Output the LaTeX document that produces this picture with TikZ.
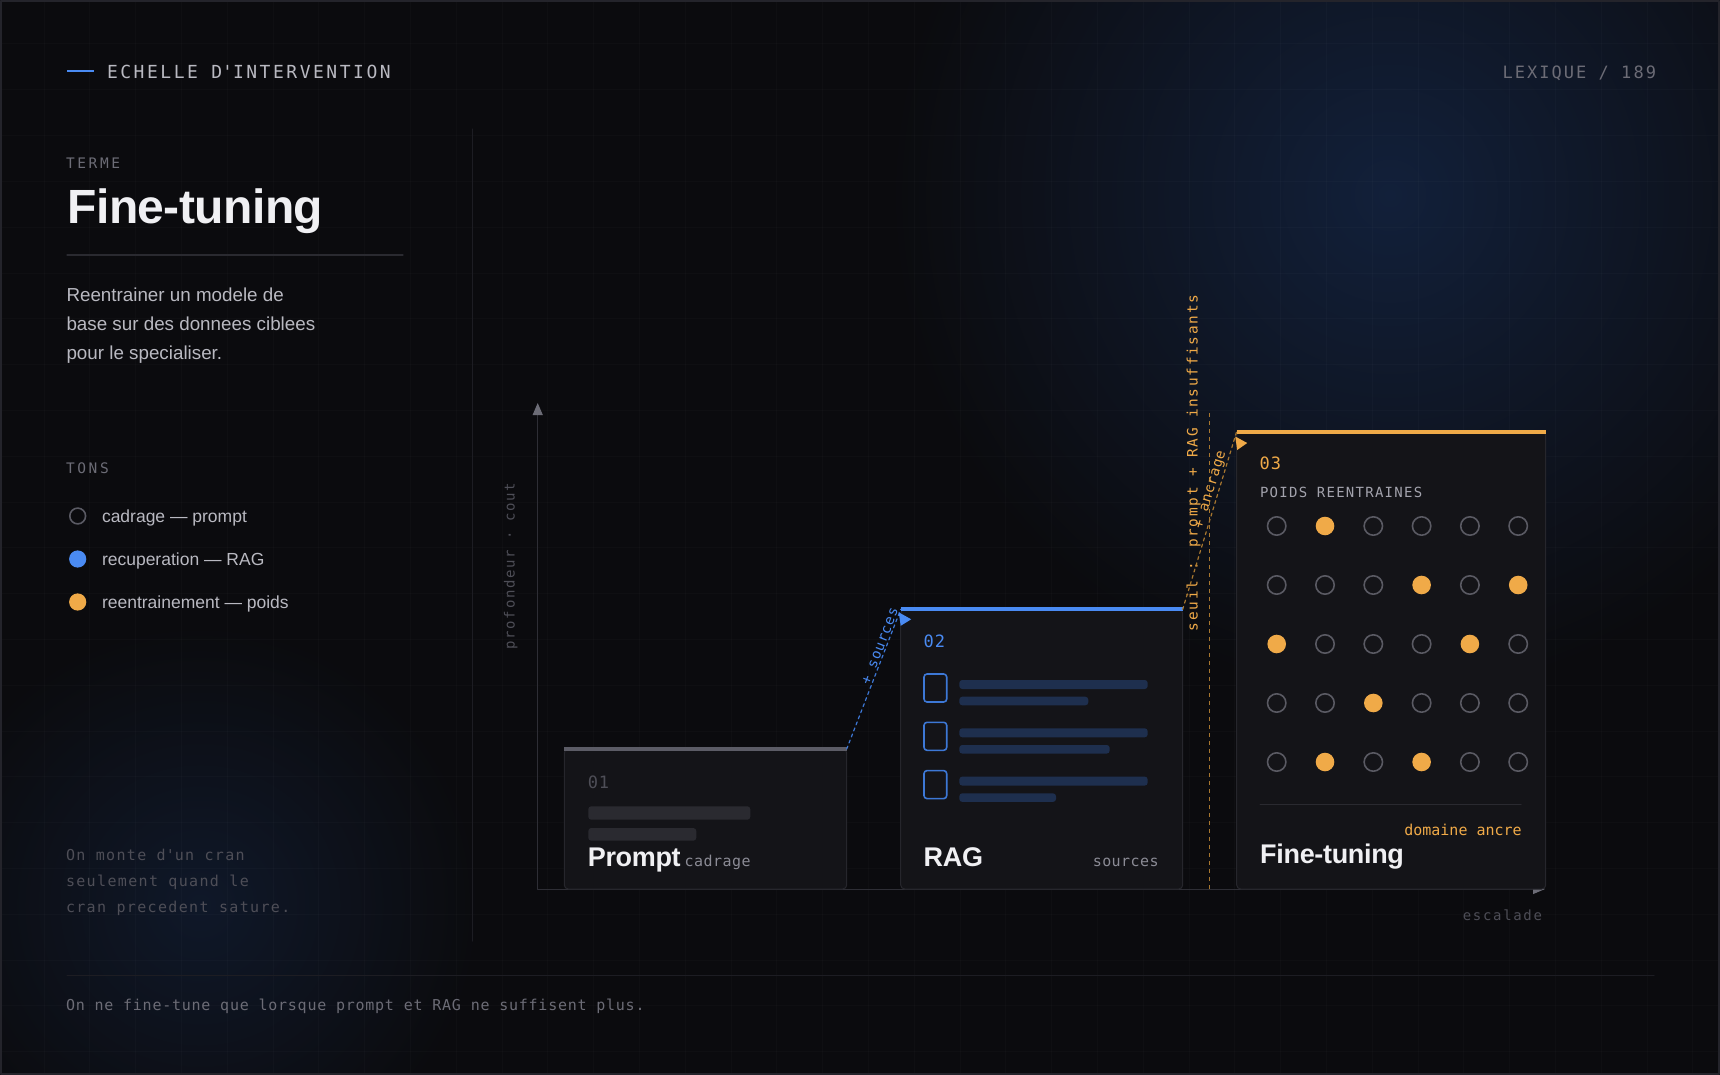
\documentclass[tikz,border=0pt]{standalone}
\usepackage{fontspec}
\setmainfont{Liberation Sans}
\newfontfamily\mono{DejaVu Sans Mono}
\newfontfamily\monoA{DejaVu Sans Mono}[LetterSpace=3]
\newfontfamily\monoB{DejaVu Sans Mono}[LetterSpace=5]
\newfontfamily\monoC{DejaVu Sans Mono}[LetterSpace=9]
\newfontfamily\monoD{DejaVu Sans Mono}[LetterSpace=12]
\newfontfamily\monoK{DejaVu Sans Mono}[LetterSpace=14]
\newfontfamily\monoE{DejaVu Sans Mono}[LetterSpace=18]
\newfontfamily\tightf{Liberation Sans}[LetterSpace=-1.2]
\usetikzlibrary{positioning,arrows.meta,calc}

\definecolor{bg}{HTML}{0B0B0E}
\definecolor{frame}{HTML}{24242B}
\definecolor{ink}{HTML}{F0F0F3}
\definecolor{txt}{HTML}{B9B9C1}
\definecolor{mute}{HTML}{6C6C76}
\definecolor{faint}{HTML}{4E4E57}
\definecolor{tagc}{HTML}{8B8B95}
\definecolor{subc}{HTML}{A3A3AD}
\definecolor{rule}{HTML}{1D1D23}
\definecolor{rulehi}{HTML}{2A2A30}
\definecolor{axisc}{HTML}{2E2E35}
\definecolor{bluec}{HTML}{4A8BF3}
\definecolor{bluedoc}{HTML}{3D78D6}
\definecolor{orng}{HTML}{F0AA48}
\definecolor{orngdim}{HTML}{A8772F}
\definecolor{cardbg}{HTML}{141418}
\definecolor{cardline}{HTML}{26262C}
\definecolor{skel}{HTML}{2A2A30}
\definecolor{skelhi}{HTML}{5C5C66}
\definecolor{ragbar}{HTML}{1E2F4E}
\definecolor{ring}{HTML}{5A5A63}
\definecolor{glow}{HTML}{12203A}
\definecolor{glowlo}{HTML}{0F1829}

\newcommand{\pxfont}[1]{\fontsize{#1}{#1}\selectfont}

\begin{document}
\begin{tikzpicture}[x=1pt, y=-1pt, line join=round, line cap=round,
  lbl/.style={inner sep=0pt, outer sep=0pt, anchor=base west},
  card/.style={draw=cardline, fill=cardbg, line width=1pt, rounded corners=4pt,
               inner sep=0pt, outer sep=0pt, anchor=south west, minimum width=#1},
  cardtitle/.style={lbl, text=ink, font=\tightf\bfseries\pxfont{27}},
  topbar/.style={line width=#1, line cap=butt},
  hop/.style={line width=1.2pt, dash pattern=on 3pt off 3.5pt},
  tip/.style={-{Triangle[width=10pt,length=12pt,color=mute]}}]

% --- BACKGROUND ---
\useasboundingbox (0,0) rectangle (1720,1075);
\fill[bg] (0,0) rectangle (1720,1075);
\begin{scope}
  \clip (0,0) rectangle (1720,1075);
  \shade[inner color=glow, outer color=bg] (1390,195) circle (500);
  \shade[inner color=glowlo, outer color=bg] (200,905) circle (280);
  % faint grid
  \foreach \g in {0,...,37}
    \draw[white, opacity=0.02, line width=1pt] (44+45.8*\g,0) -- (44+45.8*\g,1075);
  \foreach \g in {0,...,23}
    \draw[white, opacity=0.02, line width=1pt] (0,44+45.8*\g) -- (1720,44+45.8*\g);
\end{scope}
\draw[frame, line width=2pt] (1,1) rectangle (1719,1074);

% --- HEADER ---
\draw[bluec, line width=2.5pt, line cap=butt] (67,71) -- (94,71);
\node[lbl, text=txt, font=\monoK\pxfont{18}] (kicker) at (107,79) {ECHELLE D\textquotesingle INTERVENTION};
\node[lbl, anchor=base east, text=mute, font=\monoD\pxfont{17}] (pageno) at (1656,79) {LEXIQUE / 189};

% --- LEFT COLUMN ---
\node[lbl, text=mute, font=\monoE\pxfont{14.5}] (terme) at (66,169) {TERME};
\node[lbl, text=ink, font=\tightf\bfseries\pxfont{48}] (term) at (67.5,223.3) {Fine-tuning};
\draw[rulehi, line width=1.2pt] (67,255) -- (403,255);
\foreach \t [count=\k from 0] in {Reentrainer un modele de, base sur des donnees ciblees, pour le specialiser.}
  \node[lbl, text=txt, font=\pxfont{18.8}] (desc\k) at (66.5,301+29*\k) {\t};

\node[lbl, text=mute, font=\monoE\pxfont{14.5}] (tons) at (66,473.3) {TONS};
\draw[ring, line width=1.6pt] (77.7,516) circle (7.9);
\fill[bluec] (77.7,559) circle (8.6);
\fill[orng] (77.7,602) circle (8.6);
\foreach \t [count=\k from 0] in {cadrage — prompt, recuperation — RAG, reentrainement — poids}
  \node[lbl, text=txt, font=\pxfont{17.5}] (leg\k) at (102,522.7+43*\k) {\t};

\foreach \t [count=\k from 0] in {On monte d\textquotesingle un cran, seulement quand le, cran precedent sature.}
  \node[lbl, text=faint, font=\monoC\pxfont{15}] (note\k) at (66,860+26.3*\k) {\t};

\draw[rule, line width=1pt] (472.6,129) -- (472.6,941);

% --- AXES ---
\coordinate (origin) at (537.7,889);
\draw[axisc, line width=1pt, tip] (origin) -- (537.7,403);
\draw[axisc, line width=1pt, tip] (origin) -- (1545,889);
\node[lbl, anchor=base, rotate=90, text=faint, font=\monoD\pxfont{14}] (ylbl) at (514.5,566) {profondeur · cout};
\node[lbl, anchor=base east, text=faint, font=\monoD\pxfont{14}] (xlbl) at (1542,920) {escalade};

% --- STEPS ---
\node[card=282.4pt, minimum height=140pt] (prompt) at (564.3,889) {};
\node[card=282pt, minimum height=279.7pt, right=54pt of prompt.south east, anchor=south west] (rag) {};
\node[card=309pt, minimum height=457.5pt, right=54pt of rag.south east, anchor=south west] (ft) {};

\draw[skelhi, topbar=3.5pt] (prompt.north west) -- (prompt.north east);
\draw[bluec, topbar=4pt] (rag.north west) -- (rag.north east);
\draw[orng, topbar=4pt] (ft.north west) -- (ft.north east);

% step 1
\begin{scope}[shift={(prompt.north west)}]
  \node[lbl, text=faint, font=\monoB\pxfont{17}] (pnum) at (23.5,39) {01};
  \fill[skel, rounded corners=3pt] (24,57.3) rectangle (186,70.7);
  \fill[skel, rounded corners=3pt] (24,79) rectangle (132,91.7);
  \node[cardtitle] (ptitle) at (23.5,117) {Prompt};
  \node[lbl, text=tagc, font=\monoA\pxfont{15}] (ptag) at ([xshift=4pt]ptitle.base east) {cadrage};
\end{scope}

% step 2
\begin{scope}[shift={(rag.north west)}]
  \node[lbl, text=bluec, font=\monoB\pxfont{17}] (rnum) at (23,38.4) {02};
  \foreach \k/\w in {0/187.6, 1/209, 2/155.3} {
    \draw[bluedoc, line width=1.6pt, rounded corners=3pt] (23.3,64.7+48.3*\k) rectangle (46,92.7+48.3*\k);
    \fill[ragbar, rounded corners=3pt] (58.6,70.7+48.3*\k) rectangle (247,79.7+48.3*\k);
    \fill[ragbar, rounded corners=3pt] (58.6,87.4+48.3*\k) rectangle (\w,96+48.3*\k);
  }
  \node[cardtitle] (rtitle) at (23,256.7) {RAG};
  \node[lbl, anchor=base east, text=tagc, font=\monoA\pxfont{15}] (rtag) at (258,256.7) {sources};
\end{scope}

% step 3
\begin{scope}[shift={(ft.north west)}]
  \node[lbl, text=orng, font=\monoB\pxfont{17}] (fnum) at (23,38.1) {03};
  \node[lbl, text=subc, font=\monoC\pxfont{14}] (fsub) at (23.3,65.5) {POIDS REENTRAINES};
  % trained weights
  \foreach \r in {1,...,5} {
    \foreach \c in {1,...,6} {
      \pgfmathtruncatemacro\isfilled{{0,1,0,0,0,0,0,0,0,1,0,1,1,0,0,0,1,0,0,0,1,0,0,0,0,1,0,1,0,0}[(\r-1)*6+\c-1]}
      \ifnum\isfilled=1\relax
        \fill[orng] (40+48.3*\c-48.3,94.5+59*\r-59) circle (9.3);
      \else
        \draw[ring, line width=1.6pt] (40+48.3*\c-48.3,94.5+59*\r-59) circle (9.2);
      \fi
    }
  }
  \draw[rulehi, line width=1pt] (23.3,372.5) -- (284.3,372.5);
  \node[lbl, anchor=base east, text=orng, font=\mono\pxfont{15}] (ftag) at (285,403.5) {domaine ancre};
  \node[cardtitle] (ftitle) at (23.5,432.2) {Fine-tuning};
\end{scope}

% --- THRESHOLD ---
\coordinate (seuiltop) at (1209.6,413);
\draw[orngdim, line width=1pt, line cap=butt, dash pattern=on 4pt off 4pt] (seuiltop) -- (seuiltop |- origin);
\node[lbl, rotate=90, text=orng, font=\monoD\pxfont{14.4}] (seuillbl) at (1197.5,631) {seuil : prompt + RAG insuffisants};

% --- HOPS ---
\draw[bluedoc, hop] (prompt.north east) -- node[pos=0.72, sloped, above=1pt, inner sep=0pt, text=bluec, font=\monoB\pxfont{14}] (srclbl) {+ sources} (rag.north west);
\fill[bluec] ($(rag.north west)+(-2,3)$) -- ++(12.5,7) -- ++(-10.5,6.5) -- cycle;
\draw[orngdim, hop] (rag.north east) -- node[pos=0.66, sloped, above=1pt, inner sep=0pt, text=orng, font=\monoB\pxfont{14}] (anclbl) {+ ancrage} (ft.north west);
\fill[orng] ($(ft.north west)+(-1.5,5)$) -- ++(12,6.5) -- ++(-10,7) -- cycle;

% --- FOOTER ---
\draw[rule, line width=1pt] (67,975) -- (1654,975);
\node[lbl, text=mute, font=\monoB\pxfont{15}] (footer) at (66,1010) {On ne fine-tune que lorsque prompt et RAG ne suffisent plus.};

\end{tikzpicture}
\end{document}
